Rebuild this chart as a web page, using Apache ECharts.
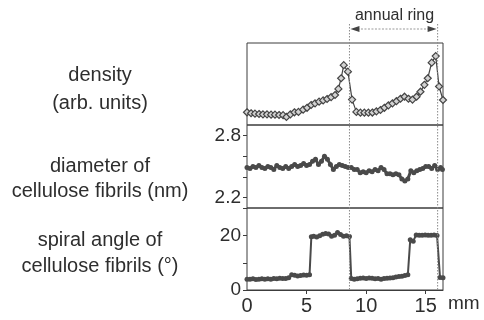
<!DOCTYPE html>
<html>
<head>
<meta charset="utf-8">
<script src="https://cdn.jsdelivr.net/npm/echarts@6/dist/echarts.min.js"></script>
<style>
html,body{margin:0;padding:0;background:#fff;}
#c{width:484px;height:320px;}
</style>
</head>
<body>
<div id="c"></div>
<script>
// ---------- data ----------
const densityX = [0.00,0.34,0.67,1.01,1.34,1.68,2.02,2.35,2.69,3.03,3.31,3.64,3.98,4.32,4.71,5.04,5.38,5.71,6.05,6.39,6.72,7.06,7.39,7.67,7.90,8.12,8.47,8.82,9.18,9.52,9.85,10.19,10.52,10.86,11.20,11.53,11.87,12.21,12.54,12.88,13.22,13.55,13.89,14.23,14.56,14.89,15.17,15.50,15.84,16.12,16.45];
const densityVal = [15.5,14.3,13.8,13.4,13.0,13.0,12.6,12.6,12.2,12.0,9.8,13.0,15.5,16.0,18.7,21.0,24.4,26.4,28.5,30.0,31.7,34.0,36.6,44.0,57.0,73.0,65.0,31.0,16.0,15.0,15.0,15.0,15.2,16.7,18.3,21.0,24.0,26.4,29.0,32.0,34.5,32.0,31.0,34.5,40.6,49.0,57.0,76.0,84.0,47.0,30.5];

const diameterX = [0.00,0.25,0.50,0.75,1.00,1.25,1.50,1.75,2.00,2.25,2.50,2.75,3.00,3.25,3.50,3.75,4.00,4.25,4.50,4.75,5.00,5.25,5.50,5.75,6.00,6.25,6.50,6.75,7.00,7.25,7.50,7.75,8.00,8.25,8.50,8.75,9.00,9.25,9.50,9.75,10.00,10.25,10.50,10.75,11.00,11.25,11.50,11.75,12.00,12.25,12.50,12.75,13.00,13.25,13.50,13.75,14.00,14.25,14.50,14.75,15.00,15.25,15.50,15.75,16.00,16.25,16.40];
const diameterVal = [2.49,2.48,2.50,2.49,2.51,2.49,2.48,2.50,2.49,2.47,2.51,2.49,2.48,2.50,2.48,2.50,2.52,2.50,2.51,2.53,2.51,2.52,2.55,2.57,2.52,2.55,2.60,2.57,2.52,2.47,2.50,2.52,2.51,2.50,2.49,2.49,2.47,2.47,2.44,2.45,2.44,2.46,2.45,2.47,2.46,2.49,2.47,2.43,2.43,2.42,2.43,2.42,2.38,2.36,2.38,2.46,2.44,2.46,2.47,2.48,2.50,2.50,2.48,2.51,2.47,2.49,2.47];

const spiralX = [0.00,0.25,0.50,0.75,1.00,1.25,1.50,1.75,2.00,2.25,2.50,2.75,3.00,3.25,3.50,3.75,4.00,4.25,4.50,4.75,5.00,5.25,5.40,5.60,5.85,6.10,6.35,6.60,6.85,7.10,7.35,7.60,7.85,8.10,8.35,8.60,8.75,9.00,9.25,9.50,9.75,10.00,10.25,10.50,10.75,11.00,11.25,11.50,11.75,12.00,12.25,12.50,12.75,13.00,13.25,13.50,13.70,13.95,14.20,14.45,14.70,14.95,15.20,15.45,15.70,15.95,16.20,16.45];
const spiralVal = [4.0,4.0,4.1,3.9,4.0,4.1,4.0,4.1,4.0,4.2,4.1,4.3,4.2,4.2,4.5,5.6,5.4,5.2,5.3,5.5,5.4,5.6,19.6,19.8,19.5,20.0,20.5,20.8,20.6,19.8,20.2,21.2,20.4,19.8,20.0,19.7,4.2,4.0,4.1,4.3,4.4,4.2,4.4,4.3,4.1,4.2,4.0,4.2,4.3,4.4,4.5,4.8,5.0,5.1,5.3,5.6,18.5,18.0,20.3,20.2,20.2,20.3,20.2,20.2,20.3,20.1,4.6,4.5];

const xTickLabels = [0, 5, 10, 15];
const xTicks = [5, 10, 15];
const diameterTickLabels = [2.2, 2.8];
const diameterTicks = [2.2, 2.4, 2.6, 2.8];
const spiralTickLabels = [0, 20];
const spiralTicks = [0, 10, 20, 30];
const ringBounds = [8.6, 16.0];
const panelLabels = [
  ['density', '(arb. units)'],
  ['diameter of', 'cellulose fibrils (nm)'],
  ['spiral angle of', 'cellulose fibrils (°)']
];
const ringLabel = 'annual ring';
const xUnit = 'mm';

// ---------- chart ----------
const FONT = '"Liberation Sans", Arial, sans-serif';
const TXT = '#2e2e2e';
const LINE = '#3c3c3c';
const chart = echarts.init(document.getElementById('c'), null, {renderer: 'canvas'});

const L = 247, W = 196;
const grids = [
  {left: L, width: W, top: 43, height: 82},
  {left: L, width: W, top: 125, height: 83},
  {left: L, width: W, top: 208, height: 82}
].map(g => Object.assign(g, {show: true, borderColor: LINE, borderWidth: 1, backgroundColor: 'transparent'}));

function xAxis(i, bottom) {
  return {
    type: 'value', gridIndex: i, min: 0, max: 16.45,
    axisLine: {show: bottom, lineStyle: {color: LINE}},
    splitLine: {show: false},
    axisTick: {show: bottom, customValues: xTicks, length: 4, inside: false, lineStyle: {color: LINE}},
    axisLabel: {show: bottom, customValues: xTickLabels, margin: 6, fontSize: 20, color: TXT, fontFamily: FONT}
  };
}
function yAxis(i, min, max, ticks, labels) {
  const has = !!ticks;
  return {
    type: 'value', gridIndex: i, min: min, max: max,
    axisLine: {show: false},
    splitLine: {show: false},
    axisTick: {show: has, customValues: ticks || [], length: 4, inside: false, lineStyle: {color: LINE}},
    axisLabel: {show: has, customValues: labels || [], margin: 6, fontSize: 19, color: TXT, fontFamily: FONT}
  };
}

const pairs = (xs, ys) => xs.map((x, i) => [x, ys[i]]);

const option = {
  animation: false,
  backgroundColor: '#fff',
  grid: grids,
  xAxis: [xAxis(0, false), xAxis(1, false), xAxis(2, true)],
  yAxis: [
    yAxis(0, 0, 100, null, null),
    yAxis(1, 2.1, 2.9, diameterTicks, diameterTickLabels),
    yAxis(2, 0, 30.2, spiralTicks, spiralTickLabels)
  ],
  series: [
    {
      type: 'line', xAxisIndex: 0, yAxisIndex: 0, data: pairs(densityX, densityVal),
      symbol: 'diamond', symbolSize: 7, showAllSymbol: true,
      lineStyle: {color: '#444', width: 1.2},
      itemStyle: {color: '#d2d2d2', borderColor: '#444', borderWidth: 1.2}
    },
    {
      type: 'line', xAxisIndex: 1, yAxisIndex: 1, data: pairs(diameterX, diameterVal),
      symbol: 'circle', symbolSize: 5, showAllSymbol: true,
      lineStyle: {color: '#4a4a4a', width: 3},
      itemStyle: {color: '#4a4a4a', borderWidth: 0}
    },
    {
      type: 'line', xAxisIndex: 2, yAxisIndex: 2, data: pairs(spiralX, spiralVal),
      symbol: 'circle', symbolSize: 5, showAllSymbol: true,
      lineStyle: {color: '#4a4a4a', width: 2},
      itemStyle: {color: '#4a4a4a', borderWidth: 0}
    }
  ]
};
chart.setOption(option);

// ---------- annotations placed via the axes' scales ----------
const gx = v => chart.convertToPixel({xAxisIndex: 2}, v);
const xa = gx(ringBounds[0]), xb = gx(ringBounds[1]);
const yBottom = chart.convertToPixel({yAxisIndex: 2}, 0);
const xRight = gx(16.45);
const topY = 24, arrowY = 29;

const graphic = [];
ringBounds.forEach(b => {
  const px = gx(b);
  graphic.push({type: 'line', shape: {x1: px, y1: topY, x2: px, y2: yBottom},
    style: {stroke: '#8a8a8a', lineWidth: 1, lineDash: [1.5, 1.5]}, z: 5});
});
graphic.push({type: 'line', shape: {x1: xa + 8, y1: arrowY, x2: xb - 8, y2: arrowY},
  style: {stroke: '#999', lineWidth: 1, lineDash: [2, 1.5]}});
graphic.push({type: 'polygon', shape: {points: [[xa + 1, arrowY], [xa + 10, arrowY - 3], [xa + 10, arrowY + 3]]},
  style: {fill: '#444'}});
graphic.push({type: 'polygon', shape: {points: [[xb - 1, arrowY], [xb - 10, arrowY - 3], [xb - 10, arrowY + 3]]},
  style: {fill: '#444'}});
graphic.push({type: 'text', x: (xa + xb) / 2 + 1, y: 16,
  style: {text: ringLabel, fontSize: 16, fontFamily: FONT, fill: TXT, align: 'center', verticalAlign: 'middle'}});
graphic.push({type: 'text', x: xRight + 5, y: yBottom + 14,
  style: {text: xUnit, fontSize: 19, fontFamily: FONT, fill: TXT, align: 'left', verticalAlign: 'middle'}});

const labelY = [[75, 103], [166, 191], [240, 266]];
panelLabels.forEach((lines, i) => {
  lines.forEach((t, j) => {
    graphic.push({type: 'text', x: 100, y: labelY[i][j],
      style: {text: t, fontSize: 20, fontFamily: FONT, fill: TXT, align: 'center', verticalAlign: 'middle'}});
  });
});
chart.setOption({graphic: graphic});
</script>
</body>
</html>
